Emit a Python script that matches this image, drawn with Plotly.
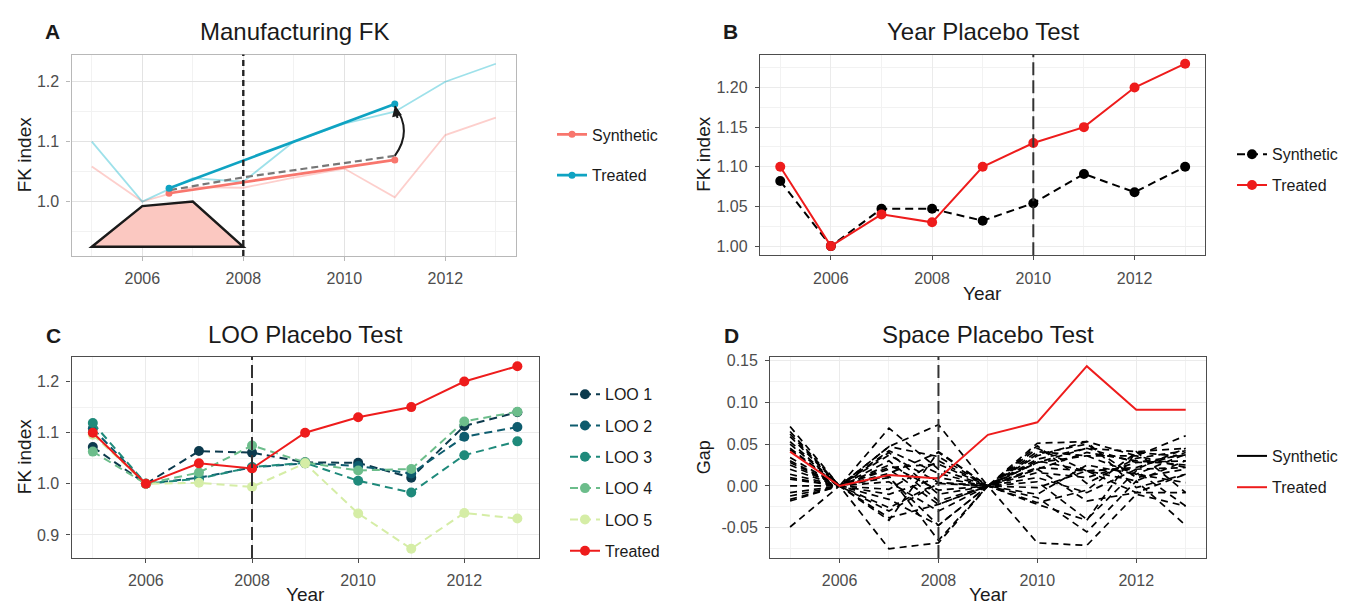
import plotly.graph_objects as go

W, H = 1348, 604
FONT = "Liberation Sans, Arial, sans-serif"

YEARS = [2005, 2006, 2007, 2008, 2009, 2010, 2011, 2012, 2013]
X_TICKS = [2006, 2008, 2010, 2012]
X_MINOR = [2005, 2007, 2009, 2011, 2013]

# ---- Panel A: Manufacturing FK ----
A_TREATED = [1.10, 1.00, 1.039, 1.033, 1.10, 1.13, 1.15, 1.20, 1.23]
A_SYNTHETIC = [1.0586, 1.00, 1.024, 1.023, 1.04, 1.055, 1.007, 1.111, 1.14]
A_TREND_X = [2006.53, 2011.0]
A_TREND_TREATED = [1.0222, 1.1629]
A_TREND_SYNTHETIC = [1.0139, 1.0695]
A_COUNTER_X = [2006.55, 2008.0, 2011.0]
A_COUNTER_Y = [1.019, 1.0404, 1.0762]
A_TRAP_X = [2005, 2006, 2007, 2008]
A_TRAP_Y = [0.9245, 0.9923, 1.0, 0.9245]
A_ARROW_X = [2011.0, 2011.36, 2011.0]   # start, control, tip
A_ARROW_Y = [1.0762, 1.118, 1.159]
A_EVENT = 2008
A_YTICKS = [1.0, 1.1, 1.2]
A_YMINOR = [0.95, 1.05, 1.15]

# ---- Panel B: Year Placebo Test ----
B_TREATED = [1.10, 1.00, 1.04, 1.03, 1.10, 1.13, 1.15, 1.20, 1.23]
B_SYNTHETIC = [1.082, 1.00, 1.047, 1.047, 1.032, 1.054, 1.091, 1.068, 1.10]
B_EVENT = 2010
B_YTICKS = [1.00, 1.05, 1.10, 1.15, 1.20]
B_YMINOR = [1.025, 1.075, 1.125, 1.175, 1.225]

# ---- Panel C: LOO Placebo Test ----
C_LOO = {
    "LOO 1": [1.072, 1.0, 1.064, 1.061, 1.042, 1.041, 1.012, 1.113, 1.140],
    "LOO 2": [1.108, 1.0, 1.012, 1.032, 1.040, 1.035, 1.020, 1.092, 1.111],
    "LOO 3": [1.119, 1.0, 1.010, 1.033, 1.041, 1.006, 0.983, 1.056, 1.083],
    "LOO 4": [1.063, 1.0, 1.022, 1.075, 1.042, 1.026, 1.029, 1.122, 1.141],
    "LOO 5": [1.096, 1.0, 1.002, 0.994, 1.040, 0.942, 0.873, 0.943, 0.932],
}
C_LOO_COLORS = ["#0c3a4d", "#0e5c6e", "#1f8a7b", "#6cbd8b", "#d5eda6"]
C_TREATED = [1.10, 1.00, 1.04, 1.03, 1.10, 1.13, 1.15, 1.20, 1.23]
C_EVENT = 2008
C_YTICKS = [0.9, 1.0, 1.1, 1.2]
C_YMINOR = [0.85, 0.95, 1.05, 1.15, 1.25]

# ---- Panel D: Space Placebo Test (gaps) ----
D_TREATED = [0.041, 0.0, 0.013, 0.009, 0.061, 0.076, 0.143, 0.091, 0.091]
D_PLACEBO = [
    [0.071, 0, -0.075, -0.068, 0, -0.068, -0.071, -0.010, -0.024],
    [0.059, 0, 0.069, 0.020, 0, 0.051, 0.053, 0.036, 0.060],
    [0.053, 0, 0.047, 0.073, 0, 0.028, 0.045, 0.041, 0.045],
    [0.043, 0, -0.041, 0.041, 0, -0.014, -0.055, 0.006, -0.047],
    [0.034, 0, 0.037, 0.004, 0, 0.022, 0.018, 0.020, 0.022],
    [0.028, 0, 0.030, -0.018, 0, 0.041, 0.036, 0.014, 0.038],
    [0.020, 0, 0.022, 0.026, 0, 0.016, 0.010, 0.028, 0.030],
    [0.014, 0, -0.016, -0.047, 0, 0.036, 0.053, -0.002, 0.014],
    [0.008, 0, 0.012, -0.065, 0, -0.022, -0.041, 0.041, -0.008],
    [0.000, 0, -0.004, 0.030, 0, 0.010, -0.008, 0.020, 0.045],
    [-0.008, 0, -0.026, 0.004, 0, -0.002, 0.018, -0.008, 0.014],
    [-0.016, 0, 0.047, 0.035, 0, 0.028, 0.036, 0.036, 0.022],
    [-0.049, 0, 0.040, -0.010, 0, 0.045, 0.018, 0.006, 0.030],
    [0.045, 0, -0.038, -0.022, 0, 0.020, -0.018, -0.008, -0.008],
    [0.025, 0, 0.015, 0.040, 0, 0.032, 0.045, 0.028, 0.037],
    [0.065, 0, 0.005, -0.030, 0, -0.010, 0.025, 0.014, 0.004],
    [0.010, 0, 0.042, 0.015, 0, 0.048, 0.003, 0.033, 0.042],
    [-0.012, 0, 0.025, -0.005, 0, 0.005, -0.040, 0.018, -0.024],
    [0.030, 0, -0.030, 0.003, 0, 0.030, 0.018, 0.022, 0.040],
    [0.050, 0, 0.010, -0.047, 0, 0.020, 0.040, 0.030, 0.025],
    [-0.018, 0, 0.020, -0.022, 0, -0.020, -0.005, 0.040, 0.035],
    [0.062, 0, -0.010, 0.010, 0, 0.038, 0.050, 0.010, 0.020],
]
D_EVENT = 2008
D_YTICKS = [-0.05, 0.0, 0.05, 0.10, 0.15]
D_YMINOR = [-0.075, -0.025, 0.025, 0.075, 0.125]

SALMON = "#f8766d"
TEAL = "#0fa3c2"
RED = "#ee1c1c"


def fx(px):
    return px / W


def fy(px):
    return 1 - px / H


def padded(lo, hi, frac=0.05):
    d = (hi - lo) * frac
    return [lo - d, hi + d]


fig = go.Figure()

# Panel A
fig.add_trace(go.Scatter(x=YEARS, y=A_SYNTHETIC, mode="lines", xaxis="x", yaxis="y",
                         line=dict(color="rgba(248,118,109,0.35)", width=1.8), showlegend=False))
fig.add_trace(go.Scatter(x=YEARS, y=A_TREATED, mode="lines", xaxis="x", yaxis="y",
                         line=dict(color="rgba(0,175,200,0.38)", width=1.8), showlegend=False))
fig.add_trace(go.Scatter(x=A_COUNTER_X, y=A_COUNTER_Y, mode="lines", xaxis="x", yaxis="y",
                         line=dict(color="#777777", width=2.2, dash="7px,4px"), showlegend=False))
fig.add_trace(go.Scatter(x=A_TREND_X, y=A_TREND_SYNTHETIC, mode="lines+markers", name="Synthetic",
                         xaxis="x", yaxis="y", legend="legend", legendgroup="a1",
                         line=dict(color=SALMON, width=2.6), marker=dict(size=7, color=SALMON)))
fig.add_trace(go.Scatter(x=A_TREND_X, y=A_TREND_TREATED, mode="lines+markers", name="Treated",
                         xaxis="x", yaxis="y", legend="legend", legendgroup="a2",
                         line=dict(color=TEAL, width=2.6), marker=dict(size=7, color=TEAL)))

# Panel B
fig.add_trace(go.Scatter(x=YEARS, y=B_SYNTHETIC, mode="lines+markers", name="Synthetic",
                         xaxis="x2", yaxis="y2", legend="legend2", legendgroup="b1",
                         line=dict(color="black", width=2, dash="8px,5px"),
                         marker=dict(size=10, color="black")))
fig.add_trace(go.Scatter(x=YEARS, y=B_TREATED, mode="lines+markers", name="Treated",
                         xaxis="x2", yaxis="y2", legend="legend2", legendgroup="b2",
                         line=dict(color=RED, width=2), marker=dict(size=10, color=RED)))

# Panel C
for (name, vals), col in zip(C_LOO.items(), C_LOO_COLORS):
    fig.add_trace(go.Scatter(x=YEARS, y=vals, mode="lines+markers", name=name,
                             xaxis="x3", yaxis="y3", legend="legend3", legendgroup="c" + name,
                             line=dict(color=col, width=2, dash="8px,5px"),
                             marker=dict(size=10, color=col)))
fig.add_trace(go.Scatter(x=YEARS, y=C_TREATED, mode="lines+markers", name="Treated",
                         xaxis="x3", yaxis="y3", legend="legend3", legendgroup="cT",
                         line=dict(color=RED, width=2), marker=dict(size=10, color=RED)))

# Panel D
for vals in D_PLACEBO:
    fig.add_trace(go.Scatter(x=YEARS, y=vals, mode="lines", xaxis="x4", yaxis="y4",
                             line=dict(color="black", width=1.7, dash="7px,5px"), showlegend=False))
fig.add_trace(go.Scatter(x=YEARS, y=D_TREATED, mode="lines", xaxis="x4", yaxis="y4", showlegend=False,
                         line=dict(color=RED, width=2)))
fig.add_trace(go.Scatter(x=[None], y=[None], mode="lines", name="Synthetic", xaxis="x4", yaxis="y4",
                         legend="legend4", legendgroup="d1", line=dict(color="black", width=2)))
fig.add_trace(go.Scatter(x=[None], y=[None], mode="lines", name="Treated", xaxis="x4", yaxis="y4",
                         legend="legend4", legendgroup="d2", line=dict(color=RED, width=2)))


def xaxis(domain, anchor, light):
    border = "#b8b8b8" if light else "#4d4d4d"
    grid = "#e3e3e3" if light else "#ebebeb"
    return dict(domain=domain, anchor=anchor, range=[2004.6, 2013.4],
                tickvals=X_TICKS, ticktext=[str(v) for v in X_TICKS],
                ticks="outside", ticklen=4, tickwidth=1, tickcolor=border,
                tickfont=dict(family=FONT, size=16, color="#4d4d4d"),
                showgrid=True, gridcolor=grid, gridwidth=1.3, zeroline=False,
                minor=dict(tickvals=X_MINOR, showgrid=True, gridcolor="#f2f2f2", gridwidth=0.8, ticks=""),
                showline=True, mirror=True, linecolor=border, linewidth=1.4,
                ticklabelstandoff=4, fixedrange=True)


def yaxis(domain, anchor, rng, ticks, fmt, minor, light):
    border = "#b8b8b8" if light else "#4d4d4d"
    grid = "#e3e3e3" if light else "#ebebeb"
    return dict(domain=domain, anchor=anchor, range=rng,
                tickvals=ticks, ticktext=[fmt.format(v) for v in ticks],
                ticks="outside", ticklen=4, tickwidth=1, tickcolor=border,
                tickfont=dict(family=FONT, size=16, color="#4d4d4d"),
                showgrid=True, gridcolor=grid, gridwidth=1.3, zeroline=False,
                minor=dict(tickvals=minor, showgrid=True, gridcolor="#f2f2f2", gridwidth=0.8, ticks=""),
                showline=True, mirror=True, linecolor=border, linewidth=1.4,
                ticklabelstandoff=4, fixedrange=True)


A_YRANGE = padded(min(A_TRAP_Y), max(A_TREATED))
B_YRANGE = padded(min(B_TREATED + B_SYNTHETIC), max(B_TREATED + B_SYNTHETIC))
C_ALL = C_TREATED + [v for s in C_LOO.values() for v in s]
C_YRANGE = padded(min(C_ALL), max(C_ALL))
D_ALL = D_TREATED + [v for s in D_PLACEBO for v in s]
D_YRANGE = padded(min(D_ALL), max(D_ALL))

dom_A = ([fx(71.6), fx(516)], [fy(253), fy(50)])
dom_B = ([fx(760), fx(1205.4)], [fy(252.3), fy(50)])
dom_C = ([fx(71.6), fx(538.6)], [fy(557.5), fy(355)])
dom_D = ([fx(770.3), fx(1205.5)], [fy(557.5), fy(355)])

fig.update_layout(
    width=W, height=H, margin=dict(l=0, r=0, t=0, b=0),
    paper_bgcolor="white", plot_bgcolor="white",
    font=dict(family=FONT, color="#1a1a1a"),
    xaxis=xaxis(dom_A[0], "y", True),
    yaxis=yaxis(dom_A[1], "x", A_YRANGE, A_YTICKS, "{:.1f}", A_YMINOR, True),
    xaxis2=xaxis(dom_B[0], "y2", False),
    yaxis2=yaxis(dom_B[1], "x2", B_YRANGE, B_YTICKS, "{:.2f}", B_YMINOR, False),
    xaxis3=xaxis(dom_C[0], "y3", False),
    yaxis3=yaxis(dom_C[1], "x3", C_YRANGE, C_YTICKS, "{:.1f}", C_YMINOR, False),
    xaxis4=xaxis(dom_D[0], "y4", False),
    yaxis4=yaxis(dom_D[1], "x4", D_YRANGE, D_YTICKS, "{:.2f}", D_YMINOR, False),
)

legend_common = dict(xanchor="left", yanchor="middle", bgcolor="rgba(0,0,0,0)",
                     font=dict(family=FONT, size=16, color="#1a1a1a"), itemclick=False,
                     itemdoubleclick=False, traceorder="grouped")
fig.update_layout(
    legend=dict(x=fx(552), y=fy(151.2), tracegroupgap=17, **legend_common),
    legend2=dict(x=fx(1232), y=fy(166.2), tracegroupgap=7, **legend_common),
    legend3=dict(x=fx(565), y=fy(471.7), tracegroupgap=7.5, **legend_common),
    legend4=dict(x=fx(1232), y=fy(470.9), tracegroupgap=7.5, **legend_common),
)

# Trapezoid sketch, counterfactual arrow, and event lines
trap_path = "M " + " L ".join(f"{x},{y}" for x, y in zip(A_TRAP_X, A_TRAP_Y)) + " Z"
arrow_path = (f"M {A_ARROW_X[0]},{A_ARROW_Y[0]} Q {A_ARROW_X[1]},{A_ARROW_Y[1]} "
              f"{A_ARROW_X[2]},{A_ARROW_Y[2]}")
shapes = [
    dict(type="path", path=trap_path, xref="x", yref="y", fillcolor="#fbc8c1",
         line=dict(color="#1a1a1a", width=2.4), layer="above"),
    dict(type="path", path=arrow_path, xref="x", yref="y",
         line=dict(color="#1a1a1a", width=2), layer="above"),
    dict(type="line", xref="x", yref="y domain", x0=A_EVENT, x1=A_EVENT, y0=0, y1=1,
         line=dict(color="#222222", width=2.4, dash="6px,4px")),
    dict(type="line", xref="x2", yref="y2 domain", x0=B_EVENT, x1=B_EVENT, y0=0, y1=1,
         line=dict(color="#333333", width=2, dash="13px,5px")),
    dict(type="line", xref="x3", yref="y3 domain", x0=C_EVENT, x1=C_EVENT, y0=0, y1=1,
         line=dict(color="#333333", width=2, dash="13px,5px")),
    dict(type="line", xref="x4", yref="y4 domain", x0=D_EVENT, x1=D_EVENT, y0=0, y1=1,
         line=dict(color="#333333", width=2, dash="13px,5px")),
]
fig.update_layout(shapes=shapes)

ann = []
# arrowhead at the tip of the curved arrow
ann.append(dict(x=A_ARROW_X[2], y=A_ARROW_Y[2], xref="x", yref="y",
                ax=A_ARROW_X[2] + 0.06, ay=A_ARROW_Y[2] - 0.022, axref="x", ayref="y",
                showarrow=True, arrowhead=2, arrowsize=1, arrowwidth=2, arrowcolor="#1a1a1a", text=""))


def text(s, xpx, ypx, size, bold=False, angle=0, color="#1a1a1a"):
    ann.append(dict(text=f"<b>{s}</b>" if bold else s, x=fx(xpx), y=fy(ypx), xref="paper", yref="paper",
                    xanchor="center", yanchor="middle", showarrow=False, textangle=angle,
                    font=dict(family=FONT, size=size, color=color)))


# panel letters and titles
text("A", 52, 27, 21, bold=True)
text("B", 730, 27, 21, bold=True)
text("C", 53, 333, 21, bold=True)
text("D", 731, 333, 21, bold=True)
text("Manufacturing FK", 294, 27, 24)
text("Year Placebo Test", 983, 27, 24)
text("LOO Placebo Test", 305, 332, 24)
text("Space Placebo Test", 988, 332, 24)
# axis titles
text("FK index", 24, 151.5, 19, angle=-90)
text("FK index", 704, 151, 19, angle=-90)
text("FK index", 24, 456, 19, angle=-90)
text("Gap", 704, 456, 18, angle=-90)
text("Year", 983, 291, 19)
text("Year", 305, 594, 19)
text("Year", 988, 594, 19)

fig.update_layout(annotations=ann)

fig.write_html("out.html")
